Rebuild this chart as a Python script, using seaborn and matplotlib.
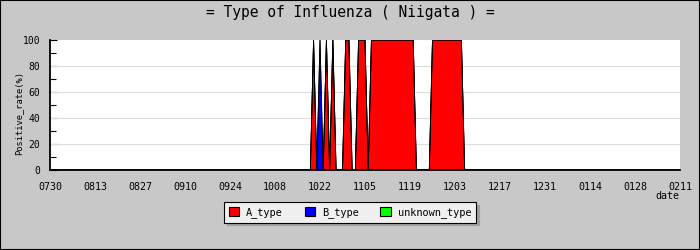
import matplotlib
matplotlib.use("Agg")
import matplotlib.pyplot as plt
from matplotlib.patches import Patch, Rectangle
import numpy as np
import seaborn as sns

# ---- data (day offset from 07/30, percentages) ----
tick_labels = ['0730', '0813', '0827', '0910', '0924', '1008', '1022', '1105',
               '1119', '1203', '1217', '1231', '0114', '0128', '0211']
report_day = [0, 81, 82, 83, 84, 85, 86, 87, 88, 89, 91, 92, 93, 94, 95, 96, 98, 99,
              100, 113, 114, 118, 119, 128, 129, 196]
a_type = [0, 0, 100, 0, 0, 0, 100, 0, 100, 0, 0, 100, 100, 0, 0, 100, 100, 0,
          100, 100, 0, 0, 100, 100, 0, 0]
b_type = [0, 0, 0, 0, 100, 0, 0, 0, 0, 0, 0, 0, 0, 0, 0, 0, 0, 0,
          0, 0, 0, 0, 0, 0, 0, 0]
unknown_type = [0, 0, 0, 0, 0, 0, 0, 0, 0, 0, 0, 0, 0, 0, 0, 0, 0, 0,
                0, 0, 0, 0, 0, 0, 0, 0]
series_names = ['A_type', 'B_type', 'unknown_type']
series_colors = ['#ff0000', '#0000ff', '#00ff00']
y_ticks = [0, 20, 40, 60, 80, 100]

sns.set_style("white")
plt.rcParams['font.family'] = ['DejaVu Sans Mono', 'DejaVu Sans']
plt.rcParams['text.color'] = 'black'
plt.rcParams['xtick.labelcolor'] = 'black'
plt.rcParams['ytick.labelcolor'] = 'black'

BG = '#c8c8c8'
fig = plt.figure(figsize=(7, 2.5), dpi=100, facecolor=BG)
ax = fig.add_axes([50/700, 1-170/250, 630/700, 130/250])
ax.set_facecolor('white')

x = np.array(report_day, dtype=float)
layers = [np.array(a_type, float), np.array(b_type, float), np.array(unknown_type, float)]
bottom = np.zeros_like(x)
for vals, col in zip(layers, series_colors):
    top = bottom + vals
    ax.fill_between(x, bottom, top, facecolor=col, edgecolor='none', zorder=2)
    sns.lineplot(x=x, y=top, color='black', linewidth=0.6, ax=ax,
                 estimator=None, sort=False, zorder=3)
    bottom = top

ax.set_xlim(0, 196)
ax.set_ylim(0, 100)
ax.set_xticks(np.arange(0, 197, 14))
ax.set_xticklabels(tick_labels, fontsize=7.2)
ax.set_yticks(y_ticks)
ax.set_yticklabels([str(v) for v in y_ticks], fontsize=7)
ax.set_yticks(np.arange(10, 100, 20), minor=True)
for yv in [20, 40, 60, 80]:
    ax.axhline(yv, color='#dcdcdc', linewidth=0.8, zorder=1)
ax.tick_params(axis='x', direction='in', length=5, width=0.8, color='#888888',
               pad=9, labelcolor='black')
ax.tick_params(axis='y', which='major', direction='in', length=5, width=0.8,
               color='black', pad=7, left=True, labelcolor='black')
ax.tick_params(axis='y', which='minor', direction='in', length=4, width=0.8,
               color='black', left=True)
for s in ['top', 'right']:
    ax.spines[s].set_visible(False)
for s in ['left', 'bottom']:
    ax.spines[s].set_visible(True)
    ax.spines[s].set_color('black')
    ax.spines[s].set_linewidth(1.3)
    ax.spines[s].set_zorder(5)
ax.set_xlabel('')
ax.set_ylabel('')
ax.grid(False)

fig.text(19/700, 1-113/250, 'Positive_rate(%)', rotation=90, ha='center', va='center',
         fontsize=6.3, color='black')
fig.text(667/700, 1-196/250, 'date', ha='center', va='center', fontsize=7.2, color='black')
fig.text(0.5, 1-13/250, '= Type of Influenza ( Niigata ) =', ha='center', va='center',
         fontsize=10.5, color='black')

handles = [Patch(facecolor=c, edgecolor='black', linewidth=0.8, label=n)
           for n, c in zip(series_names, series_colors)]
leg = fig.legend(handles=handles, loc='center', bbox_to_anchor=(350/700, 1-212.5/250),
                 ncol=3, frameon=True, fancybox=False,
                 shadow={'color': '#a0a0a0', 'alpha': 1},
                 fontsize=7.4, handlelength=1.0, handleheight=1.0,
                 handletextpad=0.7, columnspacing=2.1, borderpad=0.45)
leg.get_frame().set_facecolor('#f0f0f0')
leg.get_frame().set_edgecolor('black')
leg.get_frame().set_linewidth(0.8)
leg.get_frame().set_alpha(1)
for t in leg.get_texts():
    t.set_color('black')

fig.patches.append(Rectangle((0, 0), 1, 1, transform=fig.transFigure, fill=False,
                             edgecolor='black', linewidth=1.5))

fig.savefig('out.png', dpi=100, facecolor=BG)
